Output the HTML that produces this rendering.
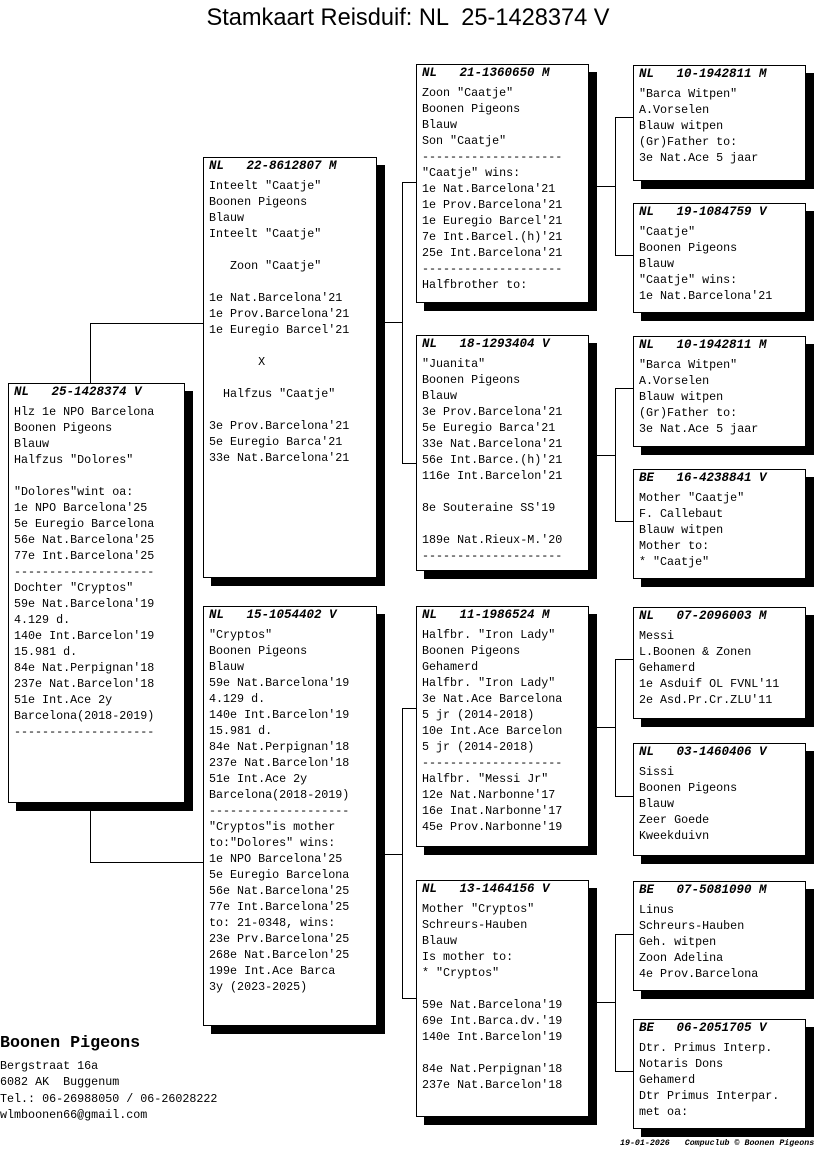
<!DOCTYPE html>
<html><head><meta charset="utf-8"><style>
html,body{margin:0;padding:0;background:#fff;}
body{width:816px;height:1172px;position:relative;overflow:hidden;font-family:"Liberation Mono",monospace;color:#000;}
.b{position:absolute;box-sizing:border-box;border:1px solid #000;background:#fff;box-shadow:8px 8px 0 #000;}
.h{position:absolute;left:5px;top:0;font-weight:bold;font-style:italic;font-size:12.5px;line-height:16px;white-space:pre;}
.t{position:absolute;left:5px;top:20px;font-size:11.7px;line-height:16px;white-space:pre;}
.l{position:absolute;background:#000;}
</style></head><body>
<div style="position:absolute;left:0;width:816px;top:3px;text-align:center;font-family:'Liberation Sans',sans-serif;font-size:23.6px;line-height:30px;white-space:pre;">Stamkaart Reisduif: NL  25-1428374 V</div>

<!-- connectors -->
<div class="l" style="left:90px;top:323px;width:1px;height:60px"></div>
<div class="l" style="left:90px;top:323px;width:113px;height:1px"></div>
<div class="l" style="left:90px;top:810px;width:1px;height:52px"></div>
<div class="l" style="left:90px;top:862px;width:113px;height:1px"></div>

<div class="l" style="left:384px;top:322px;width:19px;height:1px"></div>
<div class="l" style="left:402px;top:182px;width:1px;height:281px"></div>
<div class="l" style="left:402px;top:182px;width:14px;height:1px"></div>
<div class="l" style="left:402px;top:463px;width:14px;height:1px"></div>

<div class="l" style="left:384px;top:854px;width:19px;height:1px"></div>
<div class="l" style="left:402px;top:708px;width:1px;height:291px"></div>
<div class="l" style="left:402px;top:708px;width:14px;height:1px"></div>
<div class="l" style="left:402px;top:998px;width:14px;height:1px"></div>

<div class="l" style="left:596px;top:186px;width:20px;height:1px"></div>
<div class="l" style="left:615px;top:117px;width:1px;height:138px"></div>
<div class="l" style="left:615px;top:117px;width:18px;height:1px"></div>
<div class="l" style="left:615px;top:255px;width:18px;height:1px"></div>

<div class="l" style="left:596px;top:455px;width:20px;height:1px"></div>
<div class="l" style="left:615px;top:388px;width:1px;height:133px"></div>
<div class="l" style="left:615px;top:388px;width:18px;height:1px"></div>
<div class="l" style="left:615px;top:521px;width:18px;height:1px"></div>

<div class="l" style="left:596px;top:727px;width:20px;height:1px"></div>
<div class="l" style="left:615px;top:659px;width:1px;height:137px"></div>
<div class="l" style="left:615px;top:659px;width:18px;height:1px"></div>
<div class="l" style="left:615px;top:796px;width:18px;height:1px"></div>

<div class="l" style="left:596px;top:1002px;width:20px;height:1px"></div>
<div class="l" style="left:615px;top:934px;width:1px;height:137px"></div>
<div class="l" style="left:615px;top:934px;width:18px;height:1px"></div>
<div class="l" style="left:615px;top:1071px;width:18px;height:1px"></div>

<!-- root -->
<div class="b" style="left:8px;top:383px;width:177px;height:420px"><div class="h">NL   25-1428374 V</div><div class="t">Hlz 1e NPO Barcelona
Boonen Pigeons
Blauw
Halfzus "Dolores"

"Dolores"wint oa:
1e NPO Barcelona'25
5e Euregio Barcelona
56e Nat.Barcelona'25
77e Int.Barcelona'25
--------------------
Dochter "Cryptos"
59e Nat.Barcelona'19
4.129 d.
140e Int.Barcelon'19
15.981 d.
84e Nat.Perpignan'18
237e Nat.Barcelon'18
51e Int.Ace 2y
Barcelona(2018-2019)
--------------------</div></div>

<!-- gen1 -->
<div class="b" style="left:203px;top:157px;width:174px;height:421px"><div class="h">NL   22-8612807 M</div><div class="t">Inteelt "Caatje"
Boonen Pigeons
Blauw
Inteelt "Caatje"

   Zoon "Caatje"

1e Nat.Barcelona'21
1e Prov.Barcelona'21
1e Euregio Barcel'21

       X

  Halfzus "Caatje"

3e Prov.Barcelona'21
5e Euregio Barca'21
33e Nat.Barcelona'21</div></div>

<div class="b" style="left:203px;top:606px;width:174px;height:420px"><div class="h">NL   15-1054402 V</div><div class="t">"Cryptos"
Boonen Pigeons
Blauw
59e Nat.Barcelona'19
4.129 d.
140e Int.Barcelon'19
15.981 d.
84e Nat.Perpignan'18
237e Nat.Barcelon'18
51e Int.Ace 2y
Barcelona(2018-2019)
--------------------
"Cryptos"is mother
to:"Dolores" wins:
1e NPO Barcelona'25
5e Euregio Barcelona
56e Nat.Barcelona'25
77e Int.Barcelona'25
to: 21-0348, wins:
23e Prv.Barcelona'25
268e Nat.Barcelon'25
199e Int.Ace Barca
3y (2023-2025)</div></div>

<!-- gen2 -->
<div class="b" style="left:416px;top:64px;width:173px;height:239px"><div class="h">NL   21-1360650 M</div><div class="t">Zoon "Caatje"
Boonen Pigeons
Blauw
Son "Caatje"
--------------------
"Caatje" wins:
1e Nat.Barcelona'21
1e Prov.Barcelona'21
1e Euregio Barcel'21
7e Int.Barcel.(h)'21
25e Int.Barcelona'21
--------------------
Halfbrother to:</div></div>

<div class="b" style="left:416px;top:335px;width:173px;height:236px"><div class="h">NL   18-1293404 V</div><div class="t">"Juanita"
Boonen Pigeons
Blauw
3e Prov.Barcelona'21
5e Euregio Barca'21
33e Nat.Barcelona'21
56e Int.Barce.(h)'21
116e Int.Barcelon'21

8e Souteraine SS'19

189e Nat.Rieux-M.'20
--------------------</div></div>

<div class="b" style="left:416px;top:606px;width:173px;height:241px"><div class="h">NL   11-1986524 M</div><div class="t">Halfbr. "Iron Lady"
Boonen Pigeons
Gehamerd
Halfbr. "Iron Lady"
3e Nat.Ace Barcelona
5 jr (2014-2018)
10e Int.Ace Barcelon
5 jr (2014-2018)
--------------------
Halfbr. "Messi Jr"
12e Nat.Narbonne'17
16e Inat.Narbonne'17
45e Prov.Narbonne'19</div></div>

<div class="b" style="left:416px;top:880px;width:173px;height:237px"><div class="h">NL   13-1464156 V</div><div class="t">Mother "Cryptos"
Schreurs-Hauben
Blauw
Is mother to:
* "Cryptos"

59e Nat.Barcelona'19
69e Int.Barca.dv.'19
140e Int.Barcelon'19

84e Nat.Perpignan'18
237e Nat.Barcelon'18</div></div>

<!-- gen3 -->
<div class="b" style="left:633px;top:65px;width:173px;height:116px"><div class="h">NL   10-1942811 M</div><div class="t">"Barca Witpen"
A.Vorselen
Blauw witpen
(Gr)Father to:
3e Nat.Ace 5 jaar</div></div>

<div class="b" style="left:633px;top:203px;width:173px;height:110px"><div class="h">NL   19-1084759 V</div><div class="t">"Caatje"
Boonen Pigeons
Blauw
"Caatje" wins:
1e Nat.Barcelona'21</div></div>

<div class="b" style="left:633px;top:336px;width:173px;height:111px"><div class="h">NL   10-1942811 M</div><div class="t">"Barca Witpen"
A.Vorselen
Blauw witpen
(Gr)Father to:
3e Nat.Ace 5 jaar</div></div>

<div class="b" style="left:633px;top:469px;width:173px;height:110px"><div class="h">BE   16-4238841 V</div><div class="t">Mother "Caatje"
F. Callebaut
Blauw witpen
Mother to:
* "Caatje"</div></div>

<div class="b" style="left:633px;top:607px;width:173px;height:112px"><div class="h">NL   07-2096003 M</div><div class="t">Messi
L.Boonen &amp; Zonen
Gehamerd
1e Asduif OL FVNL'11
2e Asd.Pr.Cr.ZLU'11</div></div>

<div class="b" style="left:633px;top:743px;width:173px;height:113px"><div class="h">NL   03-1460406 V</div><div class="t">Sissi
Boonen Pigeons
Blauw
Zeer Goede
Kweekduivn</div></div>

<div class="b" style="left:633px;top:881px;width:173px;height:110px"><div class="h">BE   07-5081090 M</div><div class="t">Linus
Schreurs-Hauben
Geh. witpen
Zoon Adelina
4e Prov.Barcelona</div></div>

<div class="b" style="left:633px;top:1019px;width:173px;height:110px"><div class="h">BE   06-2051705 V</div><div class="t">Dtr. Primus Interp.
Notaris Dons
Gehamerd
Dtr Primus Interpar.
met oa:</div></div>

<!-- footer -->
<div style="position:absolute;left:0;top:1034px;font-weight:bold;font-size:16.7px;line-height:20px;white-space:pre;">Boonen Pigeons</div>
<div style="position:absolute;left:0;top:1058px;font-size:11.7px;line-height:16.4px;white-space:pre;">Bergstraat 16a
6082 AK  Buggenum
Tel.: 06-26988050 / 06-26028222
wlmboonen66@gmail.com</div>
<div style="position:absolute;left:620px;top:1139px;font-weight:bold;font-style:italic;font-size:8.3px;line-height:10px;white-space:pre;">19-01-2026   Compuclub © Boonen Pigeons</div>
</body></html>
